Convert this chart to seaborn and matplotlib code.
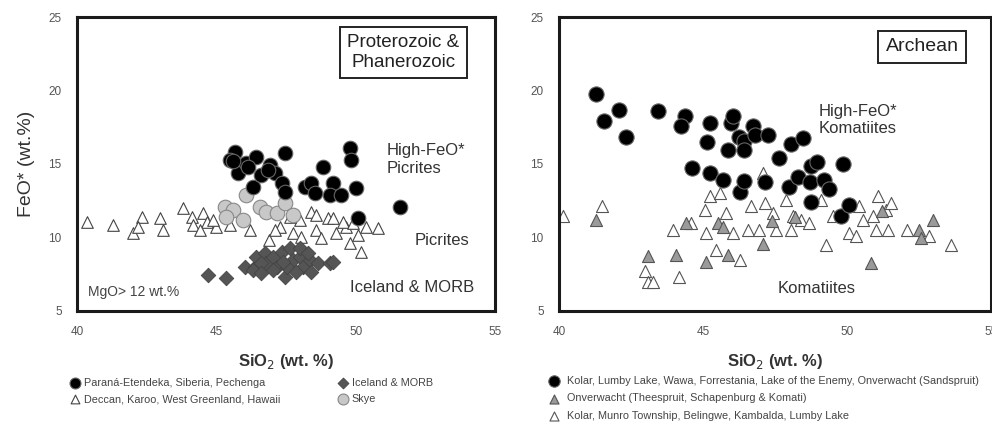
import matplotlib
matplotlib.use("Agg")
import matplotlib.pyplot as plt
import seaborn as sns

# ---- Proterozoic & Phanerozoic picrites ----
pe_sio2 = [45.66, 45.48, 45.78, 46.08, 46.44, 46.32, 46.62, 46.92, 47.10, 47.34, 47.46, 47.46,
           48.17, 48.41, 48.53, 48.83, 49.19, 49.07, 49.49, 49.79, 49.85, 50.02, 50.08, 51.58,
           45.60, 46.15, 46.85]
pe_feo = [15.84, 15.27, 14.37, 15.05, 15.50, 13.46, 14.25, 14.93, 14.37, 13.68, 13.12, 15.73,
          13.46, 13.68, 13.00, 14.82, 13.68, 12.89, 12.89, 16.07, 15.27, 13.34, 11.30, 12.10,
          15.20, 14.80, 14.60]

skye_sio2 = [46.08, 45.30, 45.60, 45.96, 45.36, 46.56, 46.80, 47.16, 47.46, 47.75]
skye_feo = [12.89, 12.10, 11.87, 11.19, 11.42, 12.10, 11.76, 11.64, 12.32, 11.53]

dk_sio2 = [40.35, 41.30, 42.02, 42.32, 42.20, 42.97, 43.09, 43.81, 44.11, 44.17, 44.53, 44.65,
           45.00, 44.41, 44.89, 45.48, 46.20, 46.90, 47.30, 47.75, 48.05, 48.41, 48.59, 48.77,
           49.00, 49.30, 49.67, 49.79, 50.08, 50.20, 50.38, 50.80, 47.99, 47.63, 49.19, 49.55,
           49.90, 48.59, 47.10]
dk_feo = [11.08, 10.85, 10.28, 11.42, 10.74, 11.30, 10.51, 11.98, 11.42, 10.85, 11.64, 11.08,
          10.74, 10.51, 11.19, 10.85, 10.51, 9.83, 10.74, 10.28, 10.06, 11.76, 10.51, 9.94,
          11.30, 10.28, 10.74, 9.60, 10.17, 9.04, 10.74, 10.62, 11.19, 11.42, 11.30, 11.08,
          10.96, 11.53, 10.51]

morb_sio2 = [44.71, 45.36, 46.02, 46.38, 46.44, 46.74, 46.80, 47.04, 47.34, 47.46, 47.63, 47.75,
             47.99, 48.11, 48.35, 48.41, 48.65, 49.07, 49.19, 46.32, 47.16, 47.52, 47.87, 47.04,
             46.62, 47.40, 47.99, 48.29, 46.62]
morb_feo = [7.45, 7.22, 8.02, 8.02, 8.69, 8.92, 8.24, 8.69, 9.04, 7.33, 9.26, 8.47,
            8.69, 8.02, 8.47, 7.67, 8.24, 8.24, 8.36, 7.79, 8.02, 8.02, 7.67, 7.79,
            8.24, 8.36, 9.26, 8.92, 7.56]

# ---- Archean komatiites ----
hk_sio2 = [41.29, 41.58, 42.07, 42.34, 43.43, 44.36, 44.24, 44.61, 45.23, 45.13, 45.23, 45.69,
           45.86, 45.98, 46.03, 46.24, 46.43, 46.43, 46.27, 46.43, 46.73, 46.79, 47.25, 47.16,
           47.65, 47.98, 48.06, 48.46, 48.29, 48.72, 48.75, 48.95, 48.75, 49.21, 49.39, 49.87,
           49.79, 50.08]
hk_feo = [19.77, 17.91, 18.64, 16.84, 18.59, 18.25, 17.57, 14.73, 17.80, 16.50, 14.39, 13.93,
          15.98, 17.80, 18.25, 16.84, 16.55, 15.98, 13.07, 13.82, 17.57, 17.00, 16.95, 13.75,
          15.41, 13.41, 16.39, 16.77, 14.11, 13.75, 14.89, 15.11, 12.41, 13.93, 13.30, 15.00,
          11.48, 12.23]

onv_sio2 = [41.29, 43.09, 44.07, 45.11, 50.83, 47.08, 44.42, 45.51, 52.51, 52.57, 52.98, 45.86,
            45.70, 47.40, 48.20, 51.20]
onv_feo = [11.20, 8.77, 8.82, 8.36, 8.25, 9.55, 10.98, 11.00, 10.52, 9.95, 11.20, 8.82,
           10.70, 11.10, 11.40, 11.80]

k_sio2 = [40.14, 41.50, 42.97, 43.09, 43.26, 44.18, 43.95, 44.59, 45.06, 45.23, 45.58, 45.11,
          45.46, 45.80, 46.03, 46.27, 46.55, 46.67, 47.08, 47.14, 46.96, 47.42, 47.54, 47.89,
          48.06, 48.12, 48.41, 48.69, 49.09, 49.27, 49.50, 50.08, 50.31, 50.43, 50.55, 51.06,
          51.00, 51.41, 51.35, 51.53, 52.10, 52.85, 53.61, 50.89]
k_feo = [11.43, 12.11, 7.75, 7.00, 7.00, 7.34, 10.52, 10.98, 11.89, 12.80, 13.02, 10.30,
         9.16, 11.66, 10.30, 8.48, 10.52, 12.11, 14.39, 12.34, 10.52, 11.66, 10.52, 12.57,
         10.52, 11.43, 11.20, 10.98, 12.57, 9.50, 11.43, 10.30, 10.07, 12.11, 11.20, 12.80,
         10.52, 10.52, 11.89, 12.34, 10.52, 10.07, 9.50, 11.43]

sns.set_style("white")
plt.rcParams['font.family'] = ['Liberation Sans', 'DejaVu Sans']

fig = plt.figure(figsize=(9.92, 4.23), dpi=100)
ax1 = fig.add_axes([0.0776, 0.2648, 0.4214, 0.695])
ax2 = fig.add_axes([0.5635, 0.2648, 0.4355, 0.695])

# left panel
sns.scatterplot(x=dk_sio2, y=dk_feo, ax=ax1, marker='^', s=70, color='white',
                edgecolor='#444444', linewidth=0.8, label='Deccan, Karoo, West Greenland, Hawaii', zorder=2)
sns.scatterplot(x=skye_sio2, y=skye_feo, ax=ax1, marker='o', s=110, color='#c8c8c8',
                edgecolor='#888888', linewidth=0.8, label='Skye', zorder=3)
sns.scatterplot(x=morb_sio2, y=morb_feo, ax=ax1, marker='D', s=55, color='#555555',
                edgecolor='#444444', linewidth=0.6, label='Iceland & MORB', zorder=3)
sns.scatterplot(x=pe_sio2, y=pe_feo, ax=ax1, marker='o', s=110, color='black',
                edgecolor='#666666', linewidth=0.8, label='Paraná-Etendeka, Siberia, Pechenga', zorder=4)

# right panel
sns.scatterplot(x=k_sio2, y=k_feo, ax=ax2, marker='^', s=75, color='white',
                edgecolor='#555555', linewidth=0.8, label='Kolar, Munro Township, Belingwe, Kambalda, Lumby Lake', zorder=2)
sns.scatterplot(x=onv_sio2, y=onv_feo, ax=ax2, marker='^', s=75, color='#9a9a9a',
                edgecolor='#555555', linewidth=0.8, label='Onverwacht (Theespruit, Schapenburg & Komati)', zorder=3)
sns.scatterplot(x=hk_sio2, y=hk_feo, ax=ax2, marker='o', s=120, color='black',
                edgecolor='#666666', linewidth=0.8,
                label='Kolar, Lumby Lake, Wawa, Forrestania, Lake of the Enemy, Onverwacht (Sandspruit)', zorder=4)

for ax in (ax1, ax2):
    ax.set_xlim(40, 55)
    ax.set_ylim(5, 25)
    ax.set_xticks([40, 45, 50, 55])
    ax.set_yticks([5, 10, 15, 20, 25])
    ax.set_yticks([7.5, 12.5, 17.5, 22.5], minor=True)
    ax.tick_params(axis='both', which='major', direction='inout', length=6, width=1.5,
                   labelsize=8.5, labelcolor='#555555', color='#222222', pad=8)
    ax.tick_params(axis='y', which='minor', direction='inout', length=4, width=1, color='#222222')
    for sp in ax.spines.values():
        sp.set_linewidth(2.2)
        sp.set_color('#1a1a1a')
    ax.set_xlabel('SiO$_2$ (wt. %)', fontsize=12, fontweight='bold', color='#333333', labelpad=10)
    ax.set_ylabel('')

ax1.set_ylabel('FeO* (wt.%)', fontsize=14, color='#333333', labelpad=10)

box = dict(boxstyle='square,pad=0.38', facecolor='white', edgecolor='#222222', linewidth=1.4)
ax1.text(0.915, 0.88, 'Proterozoic &\nPhanerozoic', transform=ax1.transAxes, ha='right', va='center',
         multialignment='center', fontsize=13.5, color='#222222', bbox=box, linespacing=1.2)
ax2.text(0.925, 0.898, 'Archean', transform=ax2.transAxes, ha='right', va='center',
         fontsize=14, color='#222222', bbox=box)

ax1.text(51.1, 15.3, 'High-FeO*\nPicrites', fontsize=12, color='#333333', va='center', ha='left')
ax1.text(52.1, 9.8, 'Picrites', fontsize=12, color='#333333', va='center', ha='left')
ax1.text(49.8, 6.6, 'Iceland & MORB', fontsize=12, color='#333333', va='center', ha='left')
ax1.text(40.4, 6.3, 'MgO> 12 wt.%', fontsize=10, color='#444444', va='center', ha='left')

ax2.text(49.0, 18.0, 'High-FeO*\nKomatiites', fontsize=12, color='#333333', va='center', ha='left')
ax2.text(47.6, 6.5, 'Komatiites', fontsize=12, color='#333333', va='center', ha='left')

h1, l1 = ax1.get_legend_handles_labels()
order1 = [3, 0, 2, 1]
ax1.legend([h1[i] for i in order1], [l1[i] for i in order1], ncol=2, loc='upper left',
           bbox_to_anchor=(-0.03, -0.212), frameon=False, fontsize=7.8, labelcolor='#444444',
           handletextpad=0.2, columnspacing=5.2, borderaxespad=0, handlelength=1.2,
           labelspacing=0.6, markerscale=0.75)

h2, l2 = ax2.get_legend_handles_labels()
order2 = [2, 1, 0]
ax2.legend([h2[i] for i in order2], [l2[i] for i in order2], ncol=1, loc='upper left',
           bbox_to_anchor=(-0.037, -0.205), frameon=False, fontsize=7.8, labelcolor='#444444',
           handletextpad=0.6, borderaxespad=0, handlelength=1.2, labelspacing=0.72, markerscale=0.75)

fig.savefig('out.png', dpi=100)
